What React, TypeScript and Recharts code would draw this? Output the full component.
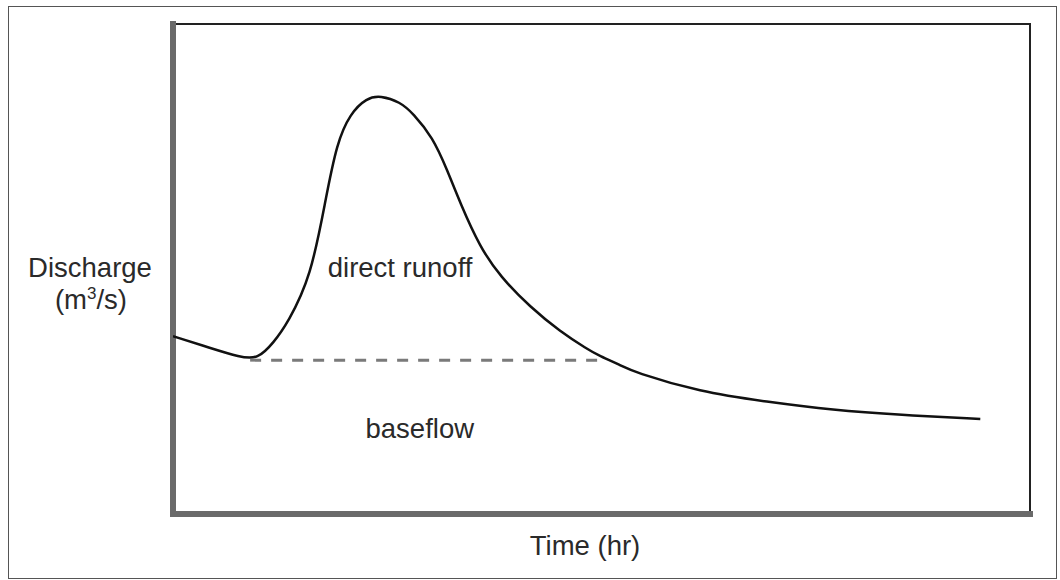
import React from 'react';
import { ComposedChart, Line, XAxis, YAxis, ReferenceLine, ReferenceDot, Customized } from 'recharts';

const timeHr = [0, 4.3, 7.8, 9.9, 11.7, 13.4, 16.1, 17.8, 19.1, 20.7, 22.6, 24.2, 26.5, 28.0, 30.3, 32.0, 33.5, 35.8, 38.2, 41.7, 45.2, 48.3, 49.8, 52.2, 53.7, 61.5, 69.3, 77.0, 84.8, 94.2];
const discharge = [36.3, 33.9, 32.0, 31.6, 34.9, 39.0, 48.4, 64.1, 75.7, 81.8, 84.9, 85.4, 84.1, 81.8, 76.9, 70.2, 63.5, 54.5, 48.4, 42.2, 37.2, 33.7, 32.2, 30.4, 29.0, 24.9, 22.9, 21.2, 20.2, 19.4];

// Baseflow separation line
const baseflowTime = [9.0, 49.8];
const baseflowValue = [31.4, 31.4];

const axisLabelY = ['Discharge', '(m', '3', '/s)'];
const axisLabelX = 'Time (hr)';
const areaLabels = ['direct runoff', 'baseflow'];

const hydrograph = timeHr.map((t, i) => ({ t, q: discharge[i] }));
const baseflow = baseflowTime.map((t, i) => ({ t, q: baseflowValue[i] }));

const FONT = '"Liberation Sans", Arial, Helvetica, sans-serif';
const TEXT = '#2a2a2a';

const StaticLabels = () => (
  <g fontFamily={FONT} fill={TEXT}>
    <text x={90} y={277} fontSize={27.5} textAnchor="middle">{axisLabelY[0]}</text>
    <text x={91} y={309} fontSize={27.5} textAnchor="middle">
      {axisLabelY[1]}
      <tspan fontSize={17} dy={-10}>{axisLabelY[2]}</tspan>
      <tspan dy={10}>{axisLabelY[3]}</tspan>
    </text>
    <text x={585} y={555} fontSize={27.5} textAnchor="middle">{axisLabelX}</text>
  </g>
);

export default function App() {
  return (
    <div style={{ position: 'absolute', left: 0, top: 0, width: 1060, height: 580, background: '#fff' }}>
      <div
        style={{
          position: 'absolute',
          left: 8,
          top: 6,
          width: 1049,
          height: 573,
          border: '1.5px solid #555',
          boxSizing: 'border-box',
        }}
      />
      <div style={{ position: 'absolute', left: 0, top: 0 }}>
        <ComposedChart width={1060} height={580} margin={{ top: 24, right: 30, bottom: 66, left: 173 }}>
          <XAxis type="number" dataKey="t" domain={[0, 100]} hide allowDataOverflow />
          <YAxis type="number" domain={[0, 100]} hide allowDataOverflow />
          <ReferenceLine x={100} stroke="#222" strokeWidth={2} strokeLinecap="square" />
          <ReferenceLine y={100} stroke="#222" strokeWidth={2} strokeLinecap="square" />
          <ReferenceLine x={0} stroke="#6a6a6a" strokeWidth={6} strokeLinecap="square" />
          <ReferenceLine y={0} stroke="#6a6a6a" strokeWidth={6} strokeLinecap="square" />
          <Line
            data={baseflow}
            dataKey="q"
            type="linear"
            stroke="#7a7a7a"
            strokeWidth={3}
            strokeDasharray="11 10"
            dot={false}
            activeDot={false}
            isAnimationActive={false}
          />
          <Line
            data={hydrograph}
            dataKey="q"
            type="basis"
            stroke="#111"
            strokeWidth={2.5}
            dot={false}
            activeDot={false}
            isAnimationActive={false}
          />
          <ReferenceDot
            x={26.5}
            y={50.4}
            r={0}
            fill="none"
            stroke="none"
            label={{ value: areaLabels[0], position: 'center', fontSize: 27.5, fill: TEXT, fontFamily: FONT }}
          />
          <ReferenceDot
            x={28.8}
            y={17.6}
            r={0}
            fill="none"
            stroke="none"
            label={{ value: areaLabels[1], position: 'center', fontSize: 27.5, fill: TEXT, fontFamily: FONT }}
          />
          <Customized component={StaticLabels} />
        </ComposedChart>
      </div>
    </div>
  );
}
